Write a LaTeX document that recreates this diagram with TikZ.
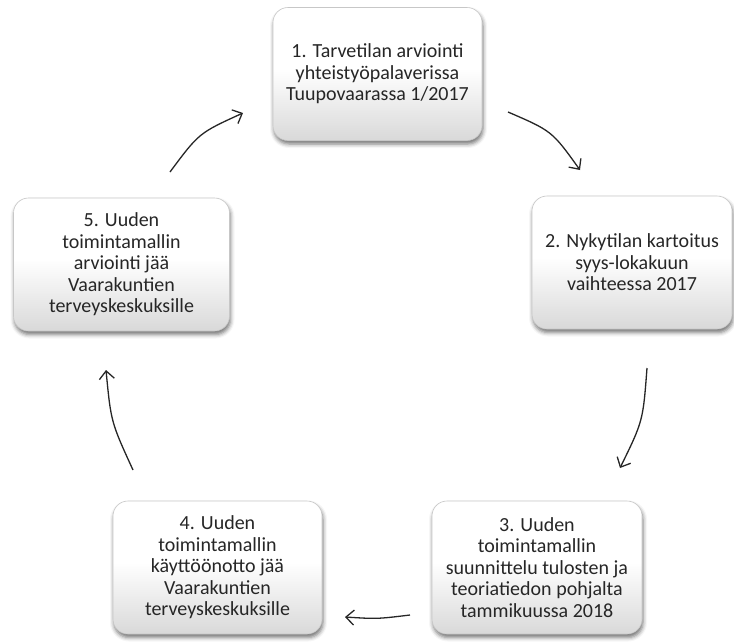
\documentclass[tikz,border=0pt]{standalone}
\usepackage{fontspec}
\setmainfont{Carlito}
\usetikzlibrary{arrows.meta,shadows.blur}
% light grey at the foot of each card fading into white
\pgfdeclareverticalshading{cardshade}{100bp}{color(0bp)=(black!15); color(25bp)=(black!15); color(52bp)=(white); color(100bp)=(white)}
\tikzset{
  card/.style={rounded corners=15pt, draw=black!22, line width=0.6pt,
    shading=cardshade,
    blur shadow={shadow xshift=1pt, shadow yshift=-3.5pt, shadow blur radius=4pt, shadow opacity=55},
    align=center, font=\fontsize{20}{21.5}\selectfont, text=black!85,
    inner sep=4pt, minimum height=133pt},
  flow/.style={line width=1.3pt, draw=black!85, -{Straight Barb[length=8pt,width=15pt]}}
}
\begin{document}
\begin{tikzpicture}[x=1pt,y=-1pt]
\useasboundingbox (0,0) rectangle (734,641);

% the five stages of the cycle
\node[card, minimum width=209pt] (s1) at (377.5,74)
  {1. Tarvetilan arviointi\\yhteistyöpalaverissa\\Tuupovaarassa 1/2017};
\node[card, minimum width=200pt] (s2) at (632,262.5)
  {2. Nykytilan kartoitus\\syys-lokakuun\\vaihteessa 2017};
\node[card, minimum width=210pt] (s3) at (537,567.5)
  {3. Uuden\\toimintamallin\\suunnittelu tulosten ja\\teoriatiedon pohjalta\\tammikuussa 2018};
\node[card, minimum width=209pt] (s4) at (217.5,567.5)
  {4. Uuden\\toimintamallin\\käyttöönotto jää\\Vaarakuntien\\terveyskeskuksille};
\node[card, minimum width=216pt] (s5) at (121.5,264.5)
  {5. Uuden\\toimintamallin\\arviointi jää\\Vaarakuntien\\terveyskeskuksille};

% free ends of the arrows between the stages
\coordinate (a1s) at (170,172);  \coordinate (a1e) at (243,113);
\coordinate (a2s) at (508,112);  \coordinate (a2e) at (580,170);
\coordinate (a3s) at (647,368);  \coordinate (a3e) at (620,468);
\coordinate (a4s) at (410,615);  \coordinate (a4e) at (345,617);
\coordinate (a5s) at (133,470);  \coordinate (a5e) at (106,370);

\draw[flow] (a1s) .. controls (199,133) .. (a1e);
\draw[flow] (a2s) .. controls (552,131) .. (a2e);
\draw[flow] (a3s) .. controls (643,421) .. (a3e);
\draw[flow] (a4s) .. controls (377,619) .. (a4e);
\draw[flow] (a5s) .. controls (111,422) .. (a5e);
\end{tikzpicture}
\end{document}
